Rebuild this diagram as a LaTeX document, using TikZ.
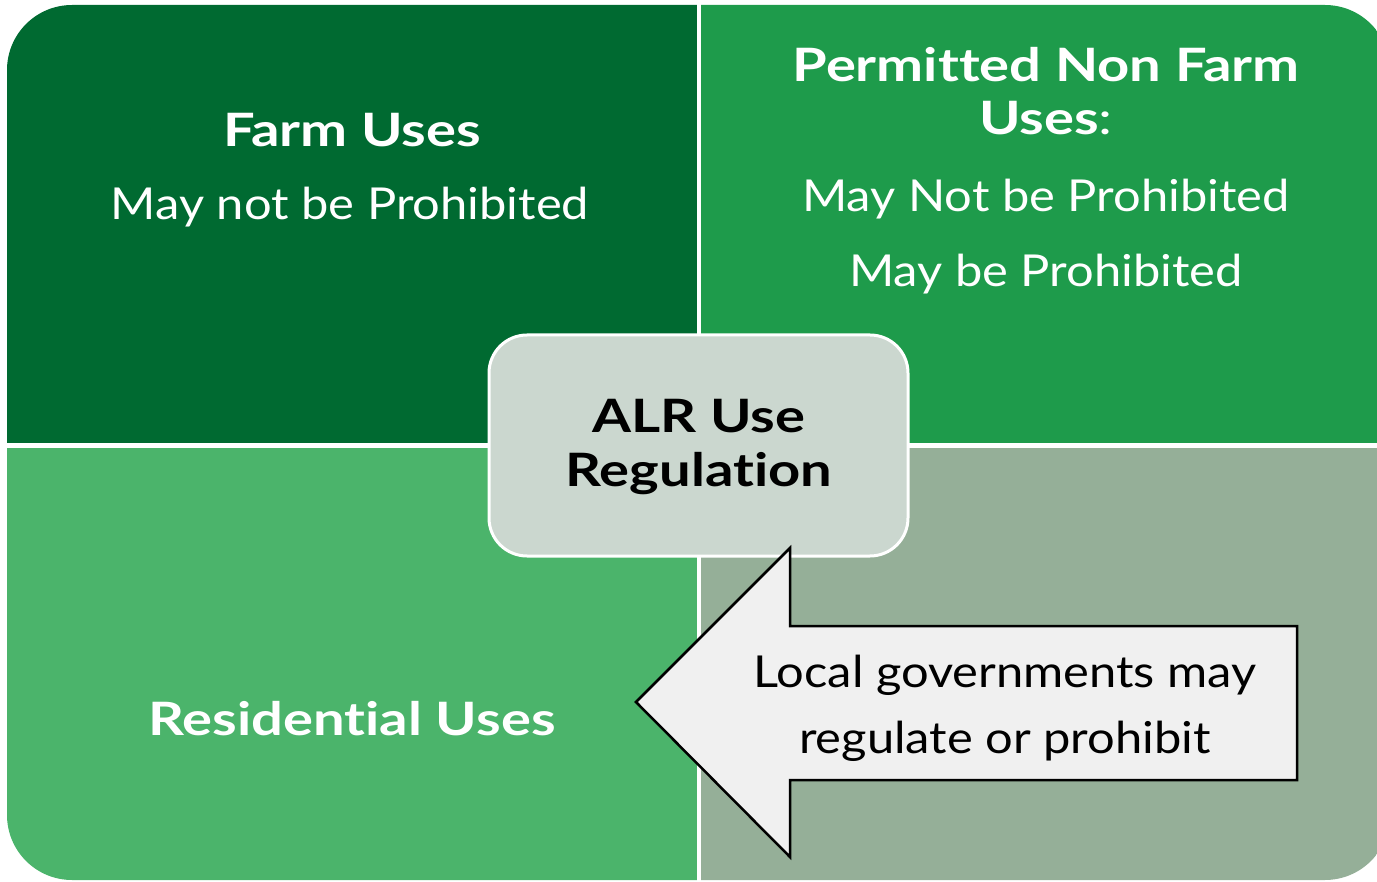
\documentclass[tikz,border=0pt]{standalone}
\usepackage{fontspec}
\setmainfont{Lato}[FakeStretch=1.11, Ligatures=CommonOff]
\newfontfamily\boldfnt{Lato}[FakeStretch=1.22, Ligatures=CommonOff]
\definecolor{qone}{HTML}{006A31}
\definecolor{qtwo}{HTML}{1E9B4B}
\definecolor{qthree}{HTML}{4BB46B}
\definecolor{qfour}{HTML}{95AF98}
\definecolor{hubfill}{HTML}{CBD7CF}
\definecolor{arrowfill}{HTML}{F0F0F0}
\tikzset{
  boldtxt/.style={font=\boldfnt\fontsize{46}{50}\bfseries\selectfont, anchor=base, inner sep=0pt},
  regtxt/.style={font=\fontsize{44}{50}\selectfont, anchor=base, inner sep=0pt},
  white text/.style={text=white},
  hubbox/.style={fill=hubfill, draw=white, line width=3pt, rounded corners=38pt},
  arrowshape/.style={fill=arrowfill, draw=black, line width=2.5pt, line join=miter}
}
\begin{document}
\begin{tikzpicture}[x=1pt,y=-1pt]
\useasboundingbox (0,0) rectangle (1377,882);
\begin{scope}
  \clip[rounded corners=65pt] (7,5) rectangle (1390,880);
  \fill[qone] (0,0) rectangle (697,443);
  \fill[qtwo] (701,0) rectangle (1400,443);
  \fill[qthree] (0,448) rectangle (697,890);
  \fill[qfour] (701,448) rectangle (1400,890);
\end{scope}
% hub
\fill[hubbox] (489,335) rectangle (908,556);
% arrow
\draw[arrowshape] (636,702) -- (790,548) -- (790,626) -- (1297,626) -- (1297,780) -- (790,780) -- (790,857) -- cycle;
% texts
\node[boldtxt, white text] (farm) at (352,147) {Farm Uses};
\node[regtxt, white text] (farmsub) at (350,220) {May not be Prohibited};
\node[boldtxt, white text] (pnf) at (1046,82) {Permitted Non Farm};
\node[boldtxt, white text] (pnfuses) at (1046,135) {Uses\textmd{:}};
\node[regtxt, white text] (mnbp) at (1046,212) {May Not be Prohibited};
\node[regtxt, white text] (mbp) at (1046,287) {May be Prohibited};
\node[boldtxt] (alr) at (699,433) {ALR Use};
\node[boldtxt] (reg) at (699,487) {Regulation};
\node[boldtxt, white text] (res) at (352,735) {Residential Uses};
\node[regtxt] (local) at (1005,687) {Local governments may};
\node[regtxt] (regul) at (1005,753) {regulate or prohibit};
\end{tikzpicture}
\end{document}
